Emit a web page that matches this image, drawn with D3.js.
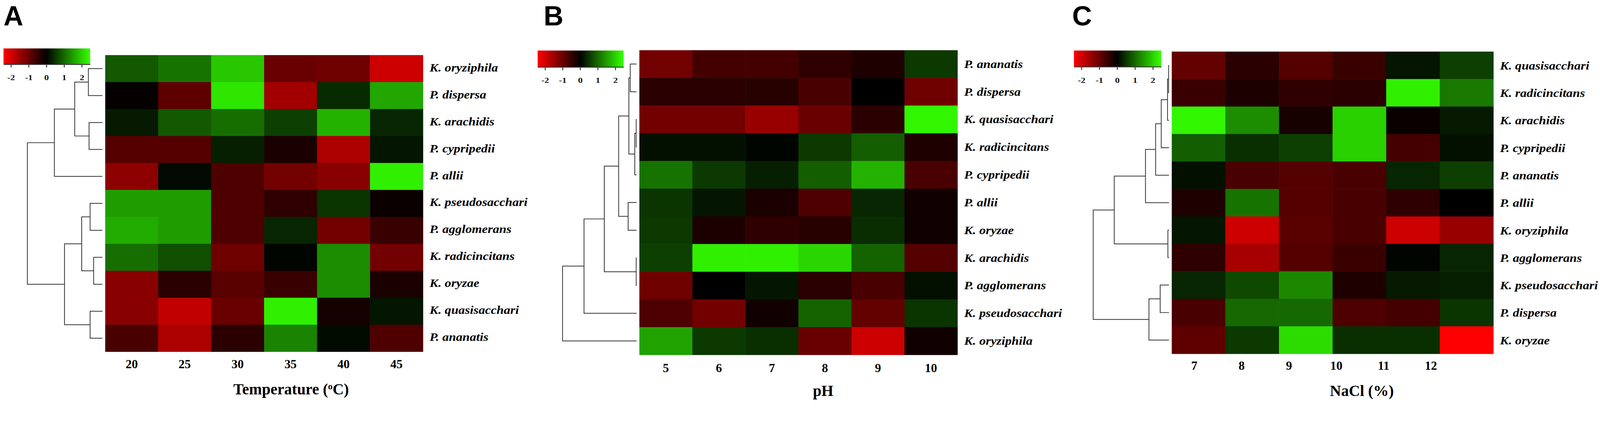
<!DOCTYPE html>
<html>
<head>
<meta charset="utf-8">
<script src="https://cdn.jsdelivr.net/npm/d3@7"></script>
<style>
  html, body { margin: 0; padding: 0; background: #fff; overflow: hidden; }
  svg { display: block; width: 100vw; height: 100vh; }
</style>
</head>
<body>
<svg id="chart" viewBox="0 0 4562 1141" preserveAspectRatio="xMidYMin meet"></svg>
<script>
const legendTicks = [-2, -1, 0, 1, 2];

// A: temperature
const tempLevels = ["20", "25", "30", "35", "40", "45"];
const tempRows = ["K. oryziphila", "P. dispersa", "K. arachidis", "P. cypripedii", "P. allii",
    "K. pseudosacchari", "P. agglomerans", "K. radicincitans", "K. oryzae", "K. quasisacchari", "P. ananatis"];
const tempValues = [
    [0.85, 1.1, 1.9, -1.0, -1.05, -1.95],
    [-0.05, -0.9, 2.2, -1.55, 0.4, 1.6],
    [0.25, 0.85, 1.05, 0.6, 1.7, 0.35],
    [-0.8, -0.8, 0.3, -0.25, -1.65, 0.2],
    [-1.35, 0.1, -0.75, -1.1, -1.3, 2.3],
    [1.5, 1.5, -0.75, -0.45, 0.5, -0.1],
    [1.65, 1.5, -0.75, 0.35, -1.1, -0.55],
    [1.05, 0.75, -1.05, 0.05, 1.35, -1.1],
    [-1.3, -0.4, -0.85, -0.55, 1.35, -0.25],
    [-1.3, -1.85, -1.0, 2.3, -0.2, 0.2],
    [-0.7, -1.65, -0.4, 1.25, 0.1, -0.75]
];
// [mergeHeight, left, right]; leaves are row indices
const tempTree = [10, [6.4, [3.69, [1.87, 0, 1], [1.78, 2, 3]], 4],
    [5.05, [2.76, [1.64, 5, 6], [1.17, 7, 8]], [1.64, 9, 10]]];

// B: pH
const phLevels = ["5", "6", "7", "8", "9", "10"];
const phRows = ["P. ananatis", "P. dispersa", "K. quasisacchari", "K. radicincitans", "P. cypripedii",
    "P. allii", "K. oryzae", "K. arachidis", "P. agglomerans", "K. pseudosacchari", "K. oryziphila"];
const phValues = [
    [-1.1, -0.65, -0.65, -0.45, -0.3, 0.55],
    [-0.4, -0.4, -0.37, -0.7, 0.0, -1.05],
    [-1.1, -1.1, -1.45, -1.0, -0.4, 2.35],
    [0.15, 0.15, 0.05, 0.55, 0.9, -0.3],
    [1.1, 0.55, 0.3, 0.9, 1.7, -0.7],
    [0.5, 0.2, -0.25, -0.75, 0.35, -0.15],
    [0.55, -0.27, -0.45, -0.37, 0.43, -0.15],
    [0.6, 2.3, 2.3, 2.05, 0.95, -0.8],
    [-1.05, 0.0, 0.2, -0.4, -0.7, 0.15],
    [-0.75, -1.1, -0.15, 0.95, -0.95, 0.5],
    [1.55, 0.55, 0.45, -1.0, -1.95, -0.15]
];
const phTree = [10, [7.1, [4.36, [2.42, [1.04, [0.85, 0, 1], [0.24, [0.05, 2, 3], 4]], [1.14, 5, 6]],
    [0.05, 7, 8]], 9], 10];

// C: NaCl
const naclLevels = ["7", "8", "9", "10", "11", "12"];
const naclRows = ["K. quasisacchari", "K. radicincitans", "K. arachidis", "P. cypripedii", "P. ananatis",
    "P. allii", "K. oryziphila", "P. agglomerans", "K. pseudosacchari", "P. dispersa", "K. oryzae"];
const naclValues = [
    [-0.95, -0.4, -0.8, -0.55, 0.2, 0.6],
    [-0.55, -0.27, -0.45, -0.4, 2.3, 1.15],
    [2.35, 1.35, -0.22, 2.0, -0.1, 0.25],
    [0.9, 0.45, 0.6, 2.0, -0.65, 0.15],
    [0.15, -0.7, -0.8, -0.7, 0.35, 0.6],
    [-0.3, 1.1, -0.8, -0.7, -0.45, 0.0],
    [0.2, -1.95, -0.85, -0.7, -1.95, -1.45],
    [-0.45, -1.6, -0.8, -0.55, 0.05, 0.35],
    [0.35, 0.7, 1.3, -0.3, 0.25, 0.3],
    [-0.7, 1.0, 1.0, -0.75, -0.65, 0.5],
    [-0.9, 0.55, 2.1, 0.45, 0.45, -2.44]
];
const naclTree = [10, [7.22, [3.1, [1.76, [1.02, [0.19, [0.05, 0, 1], 2], 3], 4], 5], [0.14, 6, 7]],
    [2.64, [1.16, 8, 9], 10]];

// ---- layout ----
const panels = [
    { letter: "A", letterX: 10, levels: tempLevels, rows: tempRows, values: tempValues, tree: tempTree,
      legend: { x: 10, y: 138, w: 247, h: 45 }, heat: { x: 300, y: 157, w: 906, h: 845 },
      dendroW: 214, labelDy: 8, tickY: 1049, title: "temp", titleX: 830, titleY: 1124 },
    { letter: "B", letterX: 1550, levels: phLevels, rows: phRows, values: phValues, tree: phTree,
      legend: { x: 1533, y: 144, w: 245, h: 47 }, heat: { x: 1823, y: 143, w: 907, h: 868 },
      dendroW: 211, labelDy: 11, tickY: 1060, title: "pH", titleX: 2347, titleY: 1128 },
    { letter: "C", letterX: 3057, levels: naclLevels, rows: naclRows, values: naclValues, tree: naclTree,
      legend: { x: 3062, y: 144, w: 249, h: 46 }, heat: { x: 3341, y: 147, w: 917, h: 861 },
      dendroW: 216, labelDy: 12, tickY: 1054, title: "NaCl (%)", titleX: 3883, titleY: 1128,
      tickSpan: [0.07, 0.806] }
];

const serif = "'Liberation Serif', 'Times New Roman', serif";
const color = d3.scaleLinear()
    .domain([-2.44, 0, 2.44])
    .range(["#ff0000", "#000000", "#33ff00"])
    .clamp(true);

const svg = d3.select("#chart");
svg.append("rect").attr("width", 4562).attr("height", 1141).attr("fill", "#fff");
const defs = svg.append("defs");

panels.forEach((p, pi) => {
    const g = svg.append("g");

    // panel letter
    g.append("text")
        .attr("x", p.letterX).attr("y", 72)
        .attr("font-family", "'Liberation Sans', Arial, sans-serif")
        .attr("font-weight", "bold").attr("font-size", 78)
        .text(p.letter);

    // colour key
    const lx = d3.scaleLinear().domain([-2.42, 2.47]).range([p.legend.x, p.legend.x + p.legend.w]);
    const grad = defs.append("linearGradient").attr("id", "key" + pi);
    grad.selectAll("stop").data(d3.range(0, 1.0001, 0.05)).join("stop")
        .attr("offset", t => t)
        .attr("stop-color", t => color(lx.invert(p.legend.x + t * p.legend.w)));
    g.append("rect")
        .attr("x", p.legend.x).attr("y", p.legend.y)
        .attr("width", p.legend.w).attr("height", p.legend.h)
        .attr("fill", `url(#key${pi})`);
    const keyAxis = g.append("g")
        .attr("transform", `translate(0,${p.legend.y + p.legend.h})`)
        .call(d3.axisBottom(lx).tickValues(legendTicks).tickFormat(d => String(d))
            .tickSize(9).tickSizeOuter(0).tickPadding(21));
    keyAxis.select(".domain").attr("stroke", "#333").attr("stroke-width", 2.5);
    keyAxis.selectAll(".tick line").attr("stroke", "#444").attr("stroke-width", 3);
    keyAxis.selectAll(".tick text")
        .attr("font-family", serif).attr("font-weight", "bold").attr("font-size", 22)
        .attr("transform", "scale(1.2,1)")
        .attr("fill", "#111");

    // heatmap
    const x = d3.scaleBand().domain(p.levels).range([p.heat.x, p.heat.x + p.heat.w]);
    const y = d3.scaleBand().domain(p.rows).range([p.heat.y, p.heat.y + p.heat.h]);
    const cells = [];
    p.rows.forEach((r, i) => p.levels.forEach((c, j) => cells.push({ r, c, v: p.values[i][j] })));
    g.append("g").selectAll("rect").data(cells).join("rect")
        .attr("x", d => x(d.c)).attr("y", d => y(d.r))
        .attr("width", x.bandwidth() + 0.6).attr("height", y.bandwidth() + 0.6)
        .attr("fill", d => color(d.v));

    // row labels (source figure is slightly stretched horizontally)
    g.append("g").selectAll("text").data(p.rows).join("text")
        .attr("transform", d =>
            `translate(${p.heat.x + p.heat.w + 19},${y(d) + y.bandwidth() / 2 + p.labelDy}) scale(1.12,1)`)
        .attr("font-family", serif).attr("font-weight", "bold").attr("font-style", "italic")
        .attr("font-size", 33)
        .text(d => d);

    // column labels
    let tx;
    if (p.tickSpan) {
        tx = d3.scalePoint().domain(p.levels)
            .range([p.heat.x + p.tickSpan[0] * p.heat.w, p.heat.x + p.tickSpan[1] * p.heat.w]);
    } else {
        tx = d => x(d) + x.bandwidth() / 2;
    }
    g.append("g").selectAll("text").data(p.levels).join("text")
        .attr("x", d => tx(d)).attr("y", p.tickY)
        .attr("text-anchor", "middle")
        .attr("font-family", serif).attr("font-weight", "bold").attr("font-size", 35)
        .text(d => d);

    // axis title
    const title = g.append("text")
        .attr("x", p.titleX).attr("y", p.titleY)
        .attr("text-anchor", "middle")
        .attr("font-family", serif).attr("font-weight", "bold").attr("font-size", 44);
    if (p.title === "temp") {
        title.append("tspan").text("Temperature (");
        title.append("tspan").attr("font-size", 26).attr("dy", -15).text("o");
        title.append("tspan").attr("dy", 15).text("C)");
    } else {
        title.text(p.title);
    }

    // dendrogram
    const root = d3.hierarchy(p.tree, d => Array.isArray(d) ? d.slice(1) : null);
    const leafX = p.heat.x - 8;
    const hx = d3.scaleLinear().domain([0, p.tree[0]]).range([leafX, leafX - p.dendroW]);
    root.eachAfter(n => {
        if (!n.children) {
            n.py = y(p.rows[n.data]) + y.bandwidth() / 2;
            n.px = hx(0);
        } else {
            n.py = (n.children[0].py + n.children[n.children.length - 1].py) / 2;
            n.px = hx(n.data[0]);
        }
    });
    g.append("g").selectAll("path").data(root.descendants().filter(n => n.children)).join("path")
        .attr("fill", "none").attr("stroke", "#333").attr("stroke-width", 2.2)
        .attr("d", n => {
            const a = n.children[0], b = n.children[n.children.length - 1];
            return `M${a.px},${a.py}H${n.px}V${b.py}H${b.px}`;
        });
});
</script>
</body>
</html>
